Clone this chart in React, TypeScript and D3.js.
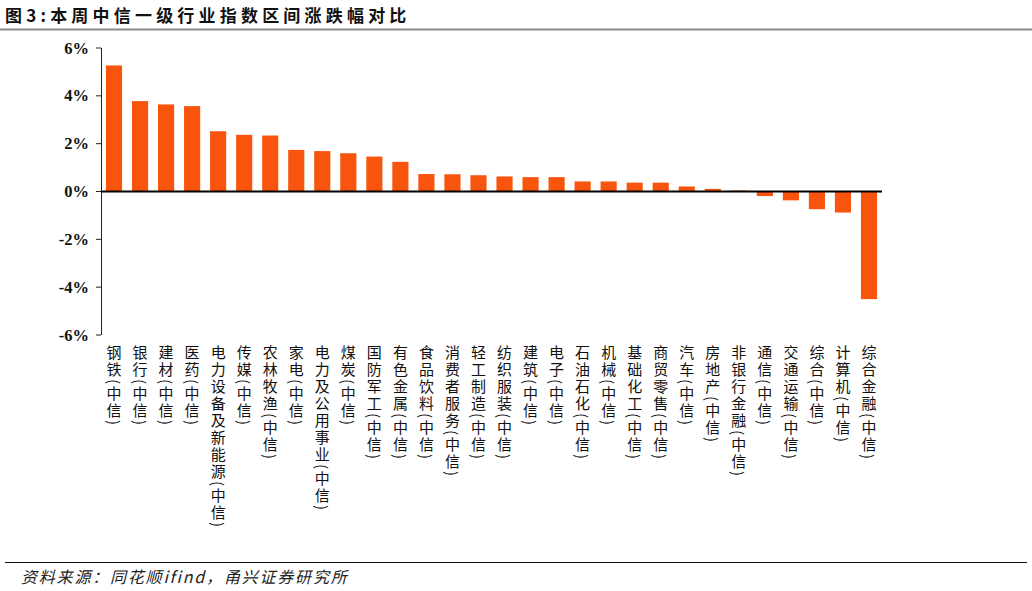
import { useEffect, useRef } from "react";
import { select, scaleBand, scaleLinear } from "d3";

const industries = [
  "钢铁", "银行", "建材", "医药", "电力设备及新能源", "传媒", "农林牧渔", "家电",
  "电力及公用事业", "煤炭", "国防军工", "有色金属", "食品饮料", "消费者服务", "轻工制造",
  "纺织服装", "建筑", "电子", "石油石化", "机械", "基础化工", "商贸零售", "汽车",
  "房地产", "非银行金融", "通信", "交通运输", "综合", "计算机", "综合金融",
];
const changes = [
  5.27, 3.78, 3.64, 3.57, 2.52, 2.37, 2.34, 1.74, 1.69, 1.6, 1.46, 1.24, 0.73, 0.72, 0.68,
  0.63, 0.6, 0.6, 0.42, 0.42, 0.37, 0.37, 0.21, 0.11, 0.04, -0.19, -0.37, -0.74, -0.88, -4.5,
];
const yTicks = [6, 4, 2, 0, -2, -4, -6];

const W = 1032;
const H = 591;

const draw = (ref: HTMLDivElement) => {
  const canvas = select(ref);
  canvas.selectAll("svg").remove();
  const svg = canvas
    .append("svg")
    .attr("width", W)
    .attr("height", H)
    .style("display", "block")
    .style("background", "#fff");

  // title
  svg
    .append("text")
    .attr("x", 5)
    .attr("y", 22)
    .attr("font-family", "'Noto Sans CJK SC'")
    .attr("font-weight", 700)
    .attr("font-size", 17)
    .attr("letter-spacing", 4.2)
    .attr("fill", "#111")
    .text("图3:本周中信一级行业指数区间涨跌幅对比");
  svg.append("line").attr("x1", 0).attr("x2", W).attr("y1", 29.5).attr("y2", 29.5)
    .attr("stroke", "#8a8a8a").attr("stroke-width", 2);

  const x = scaleBand<string>().domain(industries).range([101, 882]).paddingInner(0.38).paddingOuter(0.19);
  const y = scaleLinear().domain([-6, 6]).range([335, 48]);

  const g = svg.append("g");
  g.selectAll("rect")
    .data(changes)
    .join("rect")
    .attr("x", (d, i) => x(industries[i])!)
    .attr("width", x.bandwidth())
    .attr("y", (d) => y(Math.max(0, d)))
    .attr("height", (d) => Math.abs(y(d) - y(0)))
    .attr("fill", "#F9540D");

  // y axis
  svg.append("line").attr("x1", 101.5).attr("x2", 101.5).attr("y1", y(6)).attr("y2", y(-6))
    .attr("stroke", "#222").attr("stroke-width", 1);
  const tk = svg.append("g").selectAll("g").data(yTicks).join("g");
  tk.append("line").attr("x1", 96).attr("x2", 101).attr("y1", (d) => y(d)).attr("y2", (d) => y(d))
    .attr("stroke", "#222");
  tk.append("text")
    .attr("x", 89)
    .attr("y", (d) => y(d) + 5.5)
    .attr("text-anchor", "end")
    .attr("font-family", "'Liberation Serif'")
    .attr("font-weight", 700)
    .attr("font-size", 16.5)
    .attr("fill", "#111")
    .text((d) => `${d}%`);

  // zero line
  svg.append("line").attr("x1", 101).attr("x2", 882).attr("y1", y(0)).attr("y2", y(0))
    .attr("stroke", "#000").attr("stroke-width", 2);

  // x labels, vertical
  svg.append("g")
    .selectAll("text")
    .data(industries)
    .join("text")
    .attr("x", (d) => x(d)! + x.bandwidth() / 2)
    .attr("y", 345)
    .style("writing-mode", "vertical-rl")
    .attr("font-family", "'Noto Sans CJK SC'")
    .attr("font-size", 15)
    .attr("letter-spacing", 2)
    .attr("fill", "#111")
    .text((d) => `${d}(中信)`);

  // footer
  svg.append("line").attr("x1", 5).attr("x2", 1027).attr("y1", 562.5).attr("y2", 562.5)
    .attr("stroke", "#111").attr("stroke-width", 1);
  svg
    .append("text")
    .attr("x", 21)
    .attr("y", 583)
    .attr("font-family", "'Noto Sans CJK SC'")
    .attr("font-style", "italic")
    .attr("font-size", 16)
    .attr("letter-spacing", 1.8)
    .attr("fill", "#222")
    .text("资料来源：同花顺ifind，甬兴证券研究所");
};

export default function App() {
  const ref = useRef<HTMLDivElement>(null);
  useEffect(() => {
    if (ref.current) draw(ref.current);
  }, []);
  return <div ref={ref} style={{ position: "absolute", left: 0, top: 0 }}></div>;
}
